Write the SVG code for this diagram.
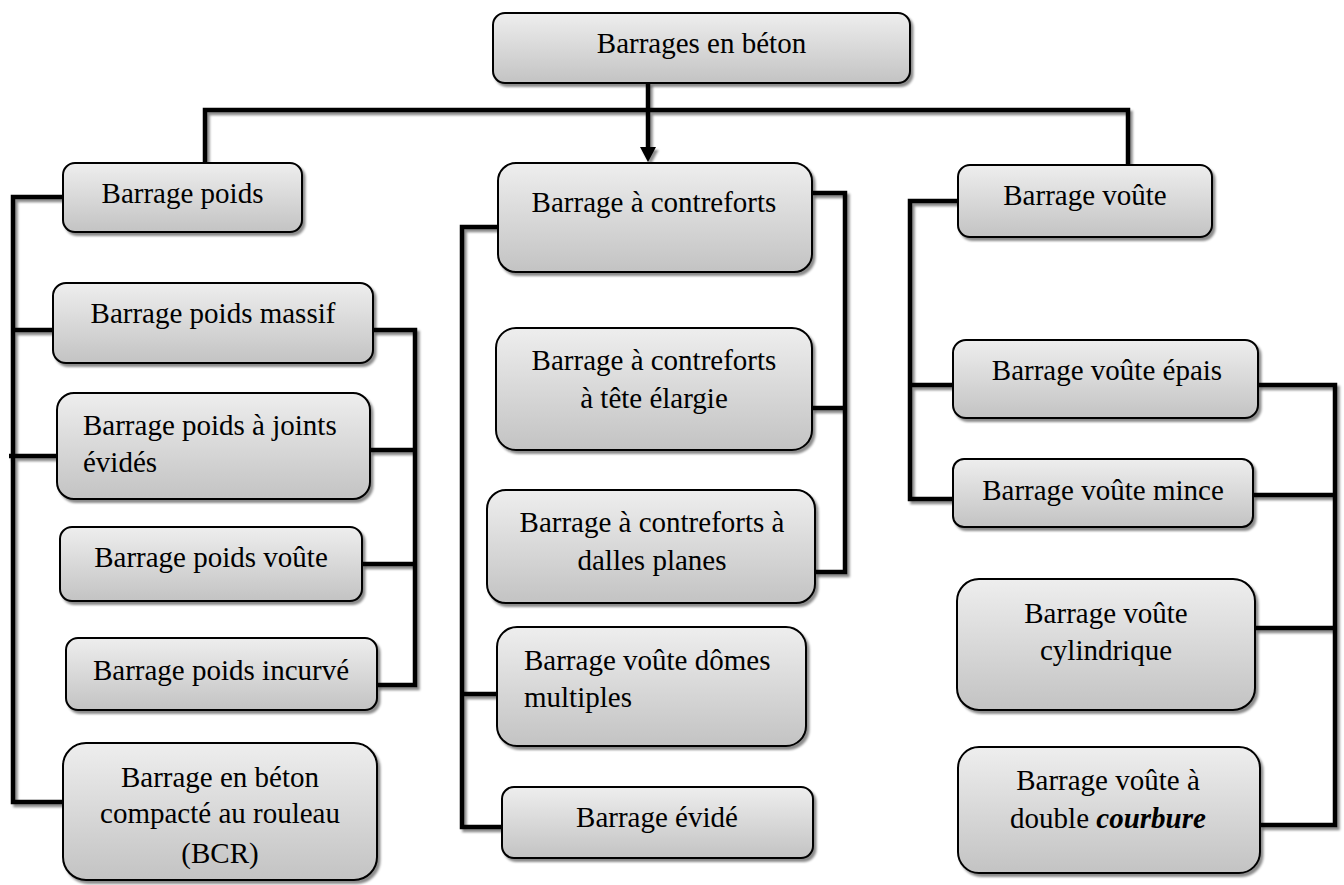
<svg xmlns="http://www.w3.org/2000/svg" width="1344" height="885" viewBox="0 0 1344 885">
<defs>
<linearGradient id="g" x1="0" y1="0" x2="0" y2="1">
<stop offset="0" stop-color="#eeeeee"/>
<stop offset="1" stop-color="#c3c3c3"/>
</linearGradient>
<filter id="sh" x="-10%" y="-10%" width="130%" height="140%">
<feDropShadow dx="2.5" dy="3" stdDeviation="1.2" flood-color="#000" flood-opacity="0.45"/>
</filter>
<marker id="arr" markerUnits="userSpaceOnUse" markerWidth="16" markerHeight="16" refX="1" refY="8" orient="auto">
<path d="M0,0 L15,8 L0,16 z" fill="#000"/>
</marker>
</defs>
<style>
.box{fill:url(#g);stroke:#000;stroke-width:2;filter:url(#sh)}
.t{font-family:"Liberation Serif","Times New Roman",serif;font-size:29px;fill:#000}
.m{text-anchor:middle}
.c{fill:none;stroke:#000;stroke-width:4.5;stroke-linejoin:miter;stroke-linecap:butt}
</style>
<rect width="1344" height="885" fill="#fff"/>

<g id="connectors" filter="url(#sh)">
<path class="c" d="M205,163 V110 H1128 V165"/>
<path class="c" d="M648,83 V148" stroke-width="5" marker-end="url(#arr)"/>
<path class="c" d="M63,197 H13 V802 H63 M13,330 H53 M9,456 H57"/>
<path class="c" d="M373,330 H415 V685 H377 M370,450 H415 M362,564 H415"/>
<path class="c" d="M498,227 H462 V827 H502 M462,694 H497"/>
<path class="c" d="M812,193 H845 V572 H815 M812,408 H845"/>
<path class="c" d="M958,201 H910 V499 H953 M910,385 H953"/>
<path class="c" d="M1258,385 H1335 V825 H1260 M1253,495 H1335 M1255,628 H1335"/>
</g>

<g id="n-beton">
<rect class="box" x="493" y="13" width="417" height="70" rx="12"/>
<text class="t m" x="701.5" y="53">Barrages en béton</text>
</g>
<g id="n-poids">
<rect class="box" x="63" y="163" width="239" height="69" rx="12"/>
<text class="t m" x="182.5" y="203">Barrage poids</text>
</g>
<g id="n-massif">
<rect class="box" x="53" y="283" width="320" height="80" rx="13"/>
<text class="t m" x="213" y="323">Barrage poids massif</text>
</g>
<g id="n-joints">
<rect class="box" x="57" y="393" width="313" height="106" rx="17"/>
<text class="t" x="83" y="435">Barrage poids à joints</text>
<text class="t" x="83" y="472">évidés</text>
</g>
<g id="n-poidsvoute">
<rect class="box" x="60" y="527" width="302" height="74" rx="12"/>
<text class="t m" x="211" y="567">Barrage poids voûte</text>
</g>
<g id="n-incurve">
<rect class="box" x="66" y="638" width="311" height="72" rx="12"/>
<text class="t m" x="221" y="680">Barrage poids incurvé</text>
</g>
<g id="n-bcr">
<rect class="box" x="63" y="743" width="314" height="137" rx="23"/>
<text class="t m" x="220" y="787">Barrage en béton</text>
<text class="t m" x="220" y="823">compacté au rouleau</text>
<text class="t m" x="220" y="863">(BCR)</text>
</g>

<g id="n-contreforts">
<rect class="box" x="498" y="163" width="314" height="109" rx="18"/>
<text class="t m" x="654" y="212">Barrage à contreforts</text>
</g>
<g id="n-tete">
<rect class="box" x="496" y="328" width="316" height="122" rx="20"/>
<text class="t m" x="654" y="370">Barrage à contreforts</text>
<text class="t m" x="654" y="408">à tête élargie</text>
</g>
<g id="n-dalles">
<rect class="box" x="487" y="490" width="328" height="113" rx="19"/>
<text class="t m" x="652" y="532">Barrage à contreforts à</text>
<text class="t m" x="652" y="570">dalles planes</text>
</g>
<g id="n-domes">
<rect class="box" x="497" y="627" width="309" height="119" rx="20"/>
<text class="t" x="524" y="670">Barrage voûte dômes</text>
<text class="t" x="524" y="707">multiples</text>
</g>
<g id="n-evide">
<rect class="box" x="502" y="787" width="311" height="71" rx="12"/>
<text class="t m" x="657" y="827">Barrage évidé</text>
</g>

<g id="n-voute">
<rect class="box" x="958" y="165" width="254" height="72" rx="12"/>
<text class="t m" x="1085" y="205">Barrage voûte</text>
</g>
<g id="n-epais">
<rect class="box" x="953" y="340" width="305" height="78" rx="13"/>
<text class="t m" x="1107" y="380">Barrage voûte épais</text>
</g>
<g id="n-mince">
<rect class="box" x="953" y="459" width="300" height="68" rx="11"/>
<text class="t m" x="1103" y="500">Barrage voûte mince</text>
</g>
<g id="n-cylindrique">
<rect class="box" x="957" y="579" width="298" height="131" rx="22"/>
<text class="t m" x="1106" y="623">Barrage voûte</text>
<text class="t m" x="1106" y="660">cylindrique</text>
</g>
<g id="n-double">
<rect class="box" x="958" y="747" width="302" height="126" rx="21"/>
<text class="t m" x="1108" y="790">Barrage voûte à</text>
<text class="t m" x="1108" y="828">double <tspan font-weight="bold" font-style="italic">courbure</tspan></text>
</g>
</svg>
